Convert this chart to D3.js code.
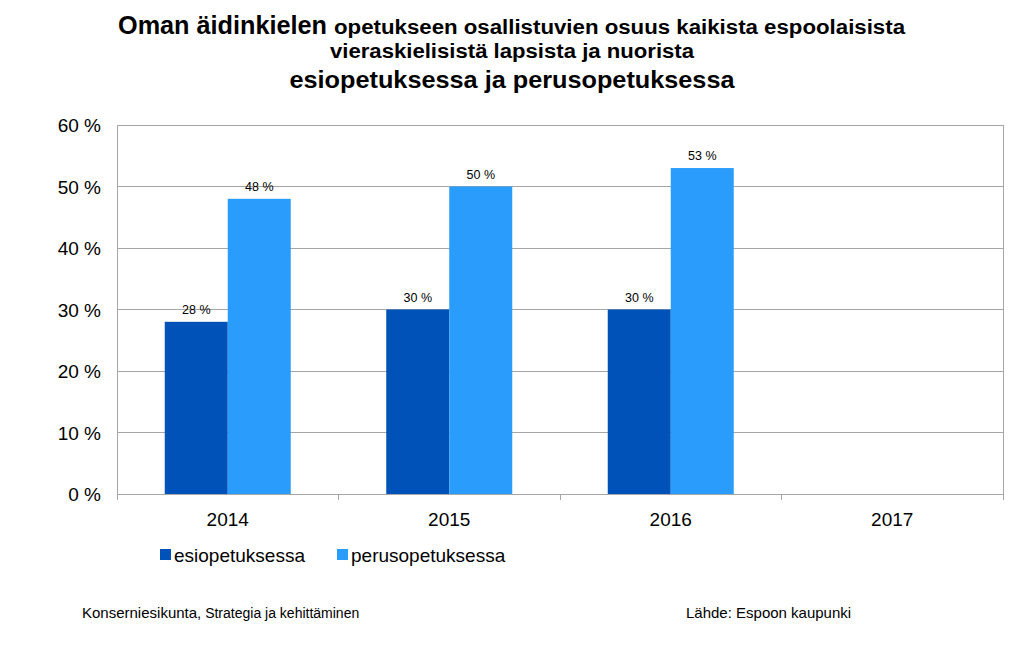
<!DOCTYPE html>
<html><head><meta charset="utf-8">
<script src="https://cdn.jsdelivr.net/npm/d3@7"></script>
<style>body{margin:0;background:#fff}svg{display:block}text{font-family:"Liberation Sans",Arial,sans-serif}</style>
</head><body>
<svg id="c" width="1024" height="669"></svg>
<script>
const categories = ["2014","2015","2016","2017"];
const seriesNames = ["esiopetuksessa","perusopetuksessa"];
const esiopetuksessa = [28, 30, 30, null];
const perusopetuksessa = [48, 50, 53, null];
const yTicks = [0,10,20,30,40,50,60];
const colors = ["#0052B9","#2A9DFC"];

const svg = d3.select("#c");
const L=117, R=1003, T=125, B=494;
const x = d3.scaleBand().domain(categories).range([L,R]).paddingInner(0).paddingOuter(0);
const y = d3.scaleLinear().domain([0,60]).range([B,T]);
const inner = d3.scaleBand().domain(seriesNames)
  .range([x.bandwidth()/2-63, x.bandwidth()/2+63]).paddingInner(0).paddingOuter(0);

// gridlines
svg.append("g").selectAll("line").data(yTicks.filter(d=>d>0)).join("line")
  .attr("x1",L).attr("x2",R).attr("y1",d=>y(d)).attr("y2",d=>y(d))
  .attr("stroke","#a6a6a6").attr("stroke-width",1).attr("shape-rendering","crispEdges");
// frame
svg.append("rect").attr("x",L).attr("y",T).attr("width",R-L).attr("height",B-T)
  .attr("fill","none").attr("stroke","#a6a6a6").attr("shape-rendering","crispEdges");

// y axis labels
svg.append("g").selectAll("text").data(yTicks).join("text")
  .attr("x",101).attr("y",d=>y(d)+7).attr("text-anchor","end")
  .attr("font-size",19).attr("fill","#000").text(d=>d+" %");

// x axis ticks at band boundaries
const bounds = categories.map(c=>x(c)).concat([R]);
svg.append("g").selectAll("line").data(bounds).join("line")
  .attr("x1",d=>d).attr("x2",d=>d).attr("y1",B).attr("y2",B+6)
  .attr("stroke","#a6a6a6").attr("shape-rendering","crispEdges");
svg.append("g").selectAll("text").data(categories).join("text")
  .attr("x",d=>x(d)+x.bandwidth()/2).attr("y",526).attr("text-anchor","middle")
  .attr("font-size",19).text(d=>d);

// bars
const series = [esiopetuksessa, perusopetuksessa];
series.forEach((vals,si)=>{
  const g = svg.append("g");
  const data = categories.map((c,i)=>({c,v:vals[i]})).filter(d=>d.v!=null);
  g.selectAll("rect").data(data).join("rect")
    .attr("x",d=>x(d.c)+inner(seriesNames[si])).attr("width",inner.bandwidth())
    .attr("y",d=>y(d.v)).attr("height",d=>B-y(d.v)).attr("fill",colors[si]);
  g.selectAll("text").data(data).join("text")
    .attr("x",d=>x(d.c)+inner(seriesNames[si])+inner.bandwidth()/2)
    .attr("y",d=>y(d.v)-8).attr("text-anchor","middle").attr("font-size",12.5)
    .text(d=>d.v+" %");
});

// legend
const legX=[160,337];
seriesNames.forEach((n,i)=>{
  svg.append("rect").attr("x",legX[i]).attr("y",549).attr("width",11).attr("height",11).attr("fill",colors[i]);
  svg.append("text").attr("x",legX[i]+14).attr("y",562).attr("font-size",19).text(n);
});

// title
const tf = "'Liberation Sans Narrow','Arial Narrow','Liberation Sans',Arial,sans-serif";
svg.append("text").attr("x",118).attr("y",34).attr("font-weight","bold").attr("font-family",tf)
  .attr("font-size",25).attr("textLength",209).attr("lengthAdjust","spacingAndGlyphs")
  .text("Oman äidinkielen");
svg.append("text").attr("x",334).attr("y",34).attr("font-weight","bold").attr("font-family",tf)
  .attr("font-size",20).attr("textLength",571).attr("lengthAdjust","spacingAndGlyphs")
  .text("opetukseen  osallistuvien  osuus kaikista  espoolaisista");
svg.append("text").attr("x",512).attr("y",58).attr("text-anchor","middle").attr("font-weight","bold")
  .attr("font-family",tf).attr("font-size",20).attr("textLength",364).attr("lengthAdjust","spacingAndGlyphs")
  .text("vieraskielisistä  lapsista ja nuorista");
svg.append("text").attr("x",512).attr("y",88).attr("text-anchor","middle").attr("font-weight","bold")
  .attr("font-family",tf).attr("font-size",24).attr("textLength",445).attr("lengthAdjust","spacingAndGlyphs")
  .text("esiopetuksessa ja perusopetuksessa");

// footer
const f1 = svg.append("text").attr("x",82).attr("y",618);
f1.append("tspan").attr("font-size",15).text("Konserniesikunta,");
f1.append("tspan").attr("font-size",14).text(" Strategia ja kehittäminen");
svg.append("text").attr("x",686).attr("y",618).attr("font-size",15).text("Lähde: Espoon kaupunki");
</script>
</body></html>
